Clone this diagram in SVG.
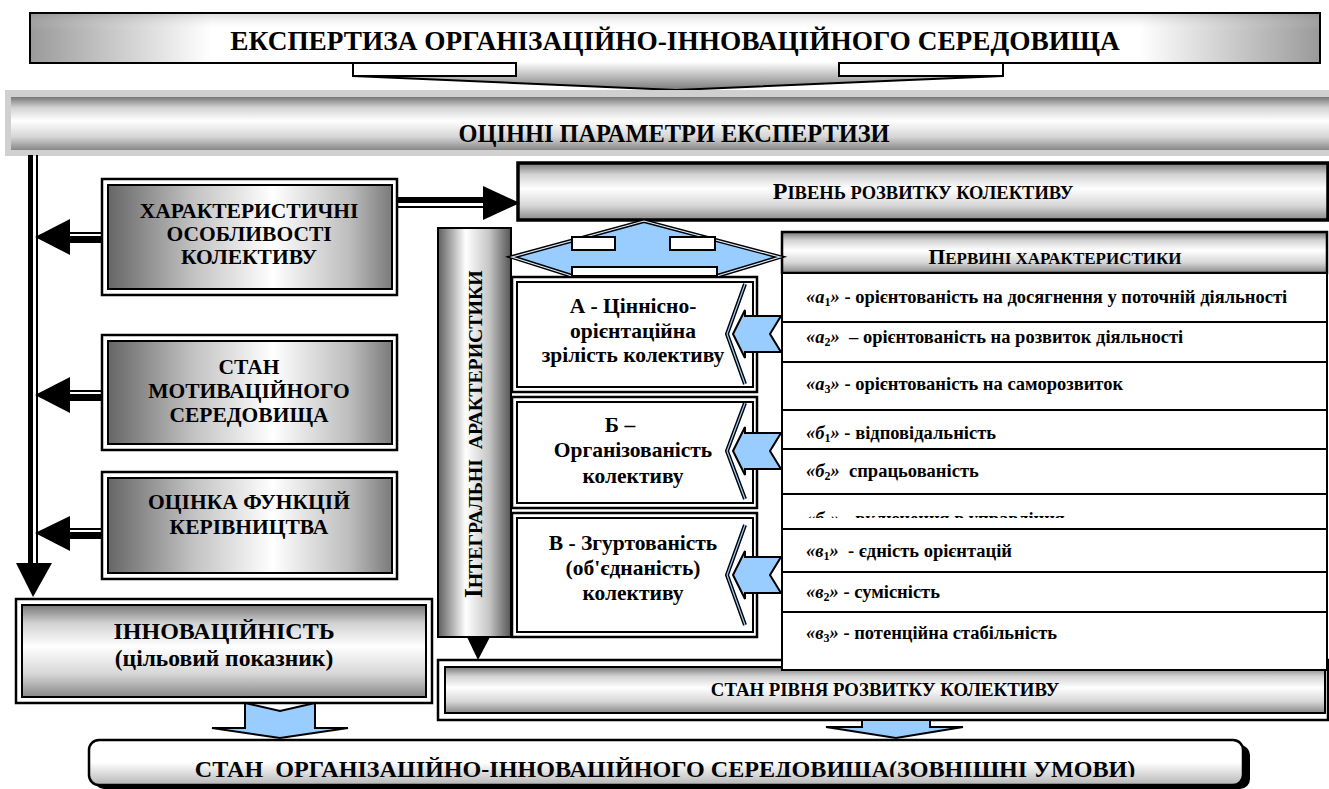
<svg xmlns="http://www.w3.org/2000/svg" width="1329" height="789" viewBox="0 0 1329 789">
<defs>
<linearGradient id="gH" x1="0" y1="0" x2="1" y2="0">
<stop offset="0" stop-color="#666"/><stop offset="0.3" stop-color="#c2c2c2"/><stop offset="0.58" stop-color="#fff"/><stop offset="0.85" stop-color="#bdbdbd"/><stop offset="1" stop-color="#7a7a7a"/>
</linearGradient>
<linearGradient id="gV" x1="0" y1="0" x2="0" y2="1">
<stop offset="0" stop-color="#777"/><stop offset="0.2" stop-color="#d2d2d2"/><stop offset="0.45" stop-color="#fff"/><stop offset="0.75" stop-color="#d6d6d6"/><stop offset="1" stop-color="#888"/>
</linearGradient>
<linearGradient id="gBar" x1="0" y1="0" x2="1" y2="0">
<stop offset="0" stop-color="#5e5e5e"/><stop offset="0.38" stop-color="#fff"/><stop offset="0.7" stop-color="#c6c6c6"/><stop offset="1" stop-color="#555"/>
</linearGradient>
<linearGradient id="gTopH" x1="0" y1="0" x2="1" y2="0">
<stop offset="0" stop-color="#9a9a9a"/><stop offset="0.14" stop-color="#fff"/><stop offset="0.86" stop-color="#fff"/><stop offset="1" stop-color="#9a9a9a"/>
</linearGradient>
<linearGradient id="gTopV" x1="0" y1="0" x2="0" y2="1">
<stop offset="0" stop-color="#808080" stop-opacity="0.3"/><stop offset="0.35" stop-color="#fff" stop-opacity="0"/>
</linearGradient>
<linearGradient id="gCall" x1="0" y1="0" x2="0" y2="1">
<stop offset="0" stop-color="#fff"/><stop offset="1" stop-color="#7a7a7a"/>
</linearGradient>
<linearGradient id="gBot" x1="0" y1="0" x2="0" y2="1">
<stop offset="0" stop-color="#fff"/><stop offset="0.5" stop-color="#fff"/><stop offset="1" stop-color="#b5b5b5"/>
</linearGradient>
<clipPath id="clipB3"><rect x="782" y="500" width="545" height="18"/></clipPath>
<clipPath id="clipBot"><rect x="90" y="742" width="1150" height="35"/></clipPath>
<style>
.t{font-family:"Liberation Serif","Times New Roman",serif;font-weight:bold;fill:#000}
.c{text-anchor:middle}
.row{font-size:18.5px}
.it{font-style:italic}
.sub{font-size:12px;font-style:normal}
.ob{fill:#fff;stroke:#000;stroke-width:2.5}
.ib{stroke:#000;stroke-width:2}
.blue{fill:#99ccff;stroke:#000;stroke-width:2;stroke-linejoin:miter}
.rowbox{fill:#fff;stroke:#000;stroke-width:2}
.bx{font-size:21.5px}
</style>
</defs>
<rect width="1329" height="789" fill="#fff"/>

<g id="n-title">
<rect x="30" y="13" width="1290" height="50" fill="url(#gTopH)"/>
<rect x="30" y="13" width="1290" height="50" fill="url(#gTopV)" stroke="#000" stroke-width="2"/>
<path d="M516,62 V76 H353 L676,90 L1003,76 H839 V62 Z" fill="url(#gCall)"/>
<path d="M516,62 V76 H353 L676,90 L1003,76 H839 V62" fill="none" stroke="#000" stroke-width="2"/>
<rect x="353" y="63" width="163" height="13" fill="#fff" stroke="#000" stroke-width="2"/>
<rect x="839" y="63" width="164" height="13" fill="#fff" stroke="#000" stroke-width="2"/>
<text class="t c" x="675" y="50" font-size="27.3">ЕКСПЕРТИЗА ОРГАНІЗАЦІЙНО-ІННОВАЦІЙНОГО СЕРЕДОВИЩА</text>
</g>

<g id="n-params">
<rect x="5" y="90" width="1324" height="66" fill="#d0d0d0"/>
<rect x="11" y="97" width="1318" height="53" fill="url(#gV)"/>
<text class="t c" x="674" y="142" font-size="24.4">ОЦІННІ ПАРАМЕТРИ ЕКСПЕРТИЗИ</text>
</g>

<g id="n-char">
<rect class="ob" x="102" y="179" width="295" height="116"/>
<rect class="ib" x="108" y="185" width="284" height="104" fill="url(#gH)"/>
<text class="t c bx" x="249" y="218">ХАРАКТЕРИСТИЧНІ</text>
<text class="t c bx" x="249" y="241">ОСОБЛИВОСТІ</text>
<text class="t c bx" x="249" y="264">КОЛЕКТИВУ</text>
</g>

<g id="n-motiv">
<rect class="ob" x="102" y="335" width="295" height="115"/>
<rect class="ib" x="108" y="341" width="284" height="103" fill="url(#gH)"/>
<text class="t c bx" x="249" y="374">СТАН</text>
<text class="t c bx" x="249" y="398">МОТИВАЦІЙНОГО</text>
<text class="t c bx" x="249" y="422">СЕРЕДОВИЩА</text>
</g>

<g id="n-mgmt">
<rect class="ob" x="102" y="472" width="295" height="107"/>
<rect class="ib" x="108" y="478" width="284" height="95" fill="url(#gH)"/>
<text class="t c bx" x="249" y="509">ОЦІНКА ФУНКЦІЙ</text>
<text class="t c bx" x="249" y="534">КЕРІВНИЦТВА</text>
</g>

<g id="n-innov">
<rect class="ob" x="16" y="599" width="416" height="104"/>
<rect class="ib" x="22" y="605" width="404" height="92" fill="url(#gV)"/>
<text class="t c" x="224" y="639" font-size="24">ІННОВАЦІЙНІСТЬ</text>
<text class="t c" x="224" y="666" font-size="23.5">(цільовий показник)</text>
</g>

<g id="n-level">
<rect x="518" y="163" width="810" height="57" fill="url(#gV)" stroke="#000" stroke-width="3.5"/>
<text class="t c" x="923" y="199"><tspan font-size="24">Р</tspan><tspan font-size="18.5">ІВЕНЬ РОЗВИТКУ КОЛЕКТИВУ</tspan></text>
</g>

<g id="n-state-level">
<rect class="ob" x="438" y="660" width="890" height="60"/>
<rect class="ib" x="445" y="667" width="880" height="46" fill="url(#gV)"/>
<text class="t c" x="885" y="696" font-size="18.8">СТАН РІВНЯ РОЗВИТКУ КОЛЕКТИВУ</text>
</g>

<g id="n-integral">
<rect x="438" y="228" width="73" height="409" fill="url(#gBar)" stroke="#000" stroke-width="2"/>
<text class="t" transform="translate(482,598) rotate(-90)"><tspan font-size="25">І</tspan><tspan font-size="19.8" xml:space="preserve">НТЕГРАЛЬНІ  АРАКТЕРИСТИКИ</tspan></text>
</g>

<g id="n-A">
<rect class="ob" x="512" y="277" width="245" height="115"/>
<rect class="ib" x="517" y="282" width="236" height="105" fill="#fff"/>
<text class="t c bx" x="633" y="313">А - Ціннісно-</text>
<text class="t c bx" x="633" y="338">орієнтаційна</text>
<text class="t c bx" x="633" y="362">зрілість колективу</text>
</g>

<g id="n-B">
<rect class="ob" x="512" y="397" width="245" height="111"/>
<rect class="ib" x="517" y="402" width="236" height="101" fill="#fff"/>
<text class="t c bx" x="620" y="432">Б –</text>
<text class="t c bx" x="633" y="457">Організованість</text>
<text class="t c bx" x="633" y="483">колективу</text>
</g>

<g id="n-V">
<rect class="ob" x="512" y="513" width="245" height="124"/>
<rect class="ib" x="517" y="518" width="236" height="114" fill="#fff"/>
<text class="t c bx" x="633" y="550">В - Згуртованість</text>
<text class="t c bx" x="633" y="575">(об'єднаність)</text>
<text class="t c bx" x="633" y="600">колективу</text>
</g>

<g id="n-primary">
<rect x="782" y="232" width="545" height="41" fill="url(#gV)" stroke="#000" stroke-width="2.5"/>
<text class="t c" x="1055" y="264"><tspan font-size="21.5">П</tspan><tspan font-size="17">ЕРВИНІ ХАРАКТЕРИСТИКИ</tspan></text>
<rect class="rowbox" x="782" y="273" width="545" height="49"/>
<text class="t row" x="806" y="303"><tspan class="it">«а</tspan><tspan class="sub" dy="3">1</tspan><tspan class="it" dy="-3">»</tspan> - орієнтованість на досягнення у поточній діяльності</text>
<rect class="rowbox" x="782" y="322" width="545" height="40"/>
<text class="t row" x="806" y="343" xml:space="preserve"><tspan class="it">«а</tspan><tspan class="sub" dy="3">2</tspan><tspan class="it" dy="-3">»</tspan>  – орієнтованість на розвиток діяльності</text>
<rect class="rowbox" x="782" y="362" width="545" height="48"/>
<text class="t row" x="806" y="390"><tspan class="it">«а</tspan><tspan class="sub" dy="3">3</tspan><tspan class="it" dy="-3">»</tspan> - орієнтованість на саморозвиток</text>
<rect class="rowbox" x="782" y="410" width="545" height="39"/>
<text class="t row" x="806" y="439"><tspan class="it">«б</tspan><tspan class="sub" dy="3">1</tspan><tspan class="it" dy="-3">»</tspan> - відповідальність</text>
<rect class="rowbox" x="782" y="449" width="545" height="45"/>
<text class="t row" x="806" y="477" xml:space="preserve"><tspan class="it">«б</tspan><tspan class="sub" dy="3">2</tspan><tspan class="it" dy="-3">»</tspan>  спрацьованість</text>
<rect class="rowbox" x="782" y="494" width="545" height="35"/>
<text class="t row" x="806" y="525" clip-path="url(#clipB3)"><tspan class="it">«б</tspan><tspan class="sub" dy="3">3</tspan><tspan class="it" dy="-3">»</tspan> - включення в управління</text>
<rect class="rowbox" x="782" y="529" width="545" height="43"/>
<text class="t row" x="806" y="557" xml:space="preserve"><tspan class="it">«в</tspan><tspan class="sub" dy="3">1</tspan><tspan class="it" dy="-3">»</tspan>  - єдність орієнтацій</text>
<rect class="rowbox" x="782" y="572" width="545" height="40"/>
<text class="t row" x="806" y="598"><tspan class="it">«в</tspan><tspan class="sub" dy="3">2</tspan><tspan class="it" dy="-3">»</tspan> - сумісність</text>
<rect class="rowbox" x="782" y="612" width="545" height="58"/>
<text class="t row" x="806" y="639"><tspan class="it">«в</tspan><tspan class="sub" dy="3">3</tspan><tspan class="it" dy="-3">»</tspan> - потенційна стабільність</text>
</g>

<g id="n-env">
<rect x="94" y="745" width="1156" height="44" rx="10" fill="#000"/>
<rect x="89" y="740" width="1154" height="45" rx="10" fill="url(#gBot)" stroke="#000" stroke-width="2.5"/>
<text class="t c" x="665" y="777" font-size="24.1" clip-path="url(#clipBot)" xml:space="preserve">СТАН  ОРГАНІЗАЦІЙНО-ІННОВАЦІЙНОГО СЕРЕДОВИЩА(ЗОВНІШНІ УМОВИ)</text>
</g>

<g id="connectors">
<rect x="28" y="155" width="5" height="410" fill="#000"/>
<rect x="36" y="155" width="2" height="410" fill="#000"/>
<polygon points="16,563 52,563 33,597" fill="#000"/>
<rect x="70" y="232" width="32" height="2" fill="#000"/>
<rect x="70" y="236" width="32" height="7" fill="#000"/>
<polygon points="35,237 70,219 70,255" fill="#000"/>
<rect x="70" y="390" width="32" height="2" fill="#000"/>
<rect x="70" y="394" width="32" height="7" fill="#000"/>
<polygon points="35,395 70,377 70,413" fill="#000"/>
<rect x="70" y="528" width="32" height="2" fill="#000"/>
<rect x="70" y="532" width="32" height="7" fill="#000"/>
<polygon points="35,533 70,516 70,551" fill="#000"/>
<rect x="397" y="197" width="88" height="6" fill="#000"/>
<rect x="397" y="206" width="88" height="2" fill="#000"/>
<polygon points="483,186 520,203 483,220" fill="#000"/>
<polygon points="467,637 490,637 478,660" fill="#000"/>
<polygon points="512,257 644,221 780,257 717,276 572,276" fill="#99ccff" stroke="#000" stroke-width="4" stroke-linejoin="miter"/>
<polygon points="512,257 644,221 780,257 717,276 572,276" fill="none" stroke="#d8ecff" stroke-width="1.2"/>
<rect x="572" y="237" width="43" height="13" fill="#fff" stroke="#000" stroke-width="2"/>
<rect x="670" y="237" width="45" height="13" fill="#fff" stroke="#000" stroke-width="2"/>
<rect x="572" y="267" width="145" height="9" fill="#fff" stroke="#000" stroke-width="2"/>
<g transform="translate(0,334)">
<polyline points="745,-50 727,0 745,50" fill="#fff" stroke="#000" stroke-width="4"/>
<polyline points="745,-50 727,0 745,50" fill="none" stroke="#99ccff" stroke-width="1.2"/>
<polygon class="blue" points="733,0 745,-24 745,-18 781,-18 770,0 781,18 745,18 745,24"/>
</g>
<g transform="translate(0,451)">
<polyline points="745,-48 727,0 745,48" fill="#fff" stroke="#000" stroke-width="4"/>
<polyline points="745,-48 727,0 745,48" fill="none" stroke="#99ccff" stroke-width="1.2"/>
<polygon class="blue" points="733,0 745,-24 745,-18 781,-18 770,0 781,18 745,18 745,24"/>
</g>
<g transform="translate(0,575)">
<polyline points="745,-50 727,0 745,50" fill="#fff" stroke="#000" stroke-width="4"/>
<polyline points="745,-50 727,0 745,50" fill="none" stroke="#99ccff" stroke-width="1.2"/>
<polygon class="blue" points="733,0 745,-24 745,-18 781,-18 770,0 781,18 745,18 745,24"/>
</g>
<polygon class="blue" stroke-width="2.5" points="245,703 280,711 315,703 315,728 348,728 280,738 212,728 245,728"/>
<polygon class="blue" stroke-width="2.5" points="862,720 930,720 930,727 963,727 896,738 826,727 862,727"/>
</g>
</svg>
